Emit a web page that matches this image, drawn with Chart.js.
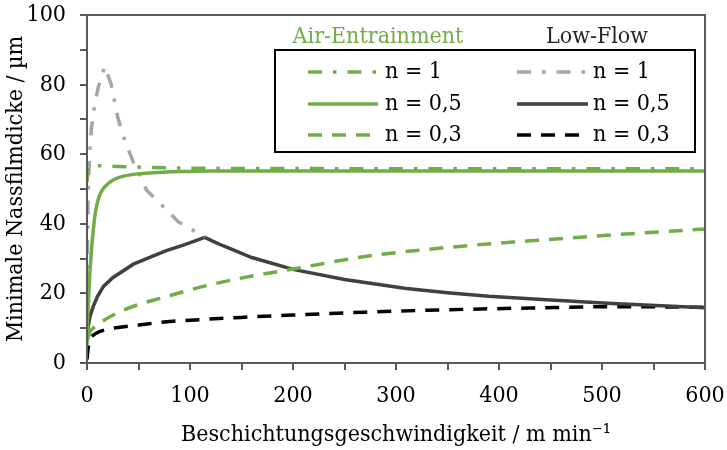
<!DOCTYPE html>
<html>
<head>
<meta charset="utf-8">
<script src="https://cdn.jsdelivr.net/npm/chart.js@4"></script>
<style>
  body { margin: 0; background: #fff; }
</style>
</head>
<body>
<canvas id="myChart" width="727" height="450"></canvas>
<script>
// Air-Entrainment
const aeN1X = [0, 1, 3, 10, 30, 60, 100, 150, 600];
const aeN1Y = [52, 55.5, 56.7, 56.7, 56.5, 56.2, 56, 55.9, 55.8];
const aeN05X = [0, 0.5, 1.5, 2.6, 4, 5.8, 8, 10.7, 14, 18.8, 25, 32, 45, 61, 90, 123, 200, 600];
const aeN05Y = [5, 12, 18, 25, 31, 37.3, 43, 46.8, 49.3, 51.1, 52.5, 53.4, 54.2, 54.6, 55, 55.2, 55.2, 55.2];
const aeN03X = [1, 3, 6, 15, 30, 50, 75, 100, 120, 160, 200, 270, 350, 430, 510, 600];
const aeN03Y = [7, 9, 10, 12, 14.5, 16.8, 18.9, 21, 22.5, 25, 27, 30.6, 33.2, 35.1, 36.8, 38.5];

// Low-Flow
const lfN1X = [0, 0.5, 1.2, 2.6, 4.2, 5.8, 10.7, 17.2, 23.6, 30, 36.7, 41.5, 46.4, 52.8, 57.7, 69, 79, 88.5, 100, 114.4];
const lfN1Y = [20, 35, 50, 60, 67, 71.3, 79, 85.2, 80, 70.4, 64, 60.3, 56.6, 53.2, 49.7, 46.4, 43.5, 40.6, 38.7, 36.1];
const lfN05X = [0, 1, 3, 6, 10, 16, 25, 45, 77, 95, 114.4, 123, 132, 160, 200, 250, 310, 350, 390, 450, 510, 600];
const lfN05Y = [6, 10.4, 13.5, 16.2, 19, 22, 24.5, 28.4, 32.3, 34, 36.1, 34.9, 33.7, 30.3, 26.9, 24, 21.4, 20.2, 19.2, 18.1, 17.1, 15.9];
const lfN03X = [0, 1, 2.6, 6, 12, 25, 50, 75, 100, 150, 200, 270, 350, 430, 510, 600];
const lfN03Y = [1, 4, 6.6, 8, 9, 10, 10.9, 11.8, 12.3, 13.1, 13.8, 14.6, 15.3, 15.8, 16.2, 16];

const groupTitles = ["Air-Entrainment", "Low-Flow"];
const seriesLabels = ["n = 1", "n = 0,5", "n = 0,3", "n = 1", "n = 0,5", "n = 0,3"];

const FONT = "'DejaVu Serif Condensed', 'DejaVu Serif', serif";
const GREEN = "#70ad47";
const AXIS = "#595959";

function xy(xs, ys) {
  return xs.map((x, i) => ({ x: x, y: ys[i] }));
}

function line(label, xs, ys, color, dash, tension) {
  return {
    label: label,
    data: xy(xs, ys),
    borderColor: color,
    backgroundColor: color,
    borderWidth: 3.5,
    borderDash: dash,
    borderCapStyle: "butt",
    pointRadius: 0,
    tension: 0,
    cubicInterpolationMode: tension ? "monotone" : "default"
  };
}

// keep label overhang from shrinking the plot area
function noOverhang(scale) {
  scale.paddingTop = 0;
  scale.paddingBottom = 0;
  scale.paddingLeft = 0;
  scale.paddingRight = 0;
}

// frame round the plot area
const frame = {
  id: "frame",
  afterDatasetsDraw(chart) {
    const a = chart.chartArea;
    const ctx = chart.ctx;
    ctx.save();
    ctx.strokeStyle = AXIS;
    ctx.lineWidth = 2;
    ctx.strokeRect(a.left, a.top, a.right - a.left, a.bottom - a.top);
    ctx.restore();
  }
};

// two-column legend with group titles
const groupLegend = {
  id: "groupLegend",
  afterDraw(chart) {
    const ctx = chart.ctx;
    ctx.save();
    ctx.fillStyle = "#fff";
    ctx.fillRect(275, 50, 420, 102);
    ctx.strokeStyle = "#000";
    ctx.lineWidth = 2;
    ctx.strokeRect(275, 50, 420, 102);

    ctx.font = "23px " + FONT;
    ctx.textBaseline = "middle";
    ctx.textAlign = "center";
    ctx.fillStyle = GREEN;
    ctx.fillText(groupTitles[0], 378, 37);
    ctx.fillStyle = "#262626";
    ctx.fillText(groupTitles[1], 597, 37);

    const cols = [{ x0: 308, x1: 378, tx: 385 }, { x0: 517, x1: 588, tx: 593 }];
    const rows = [72, 104, 135];
    ctx.textAlign = "left";
    chart.data.datasets.forEach((ds, i) => {
      const c = cols[Math.floor(i / 3)];
      const y = rows[i % 3];
      ctx.strokeStyle = ds.borderColor;
      ctx.lineWidth = ds.borderWidth;
      ctx.lineCap = "butt";
      ctx.setLineDash(ds.borderDash || []);
      ctx.beginPath();
      ctx.moveTo(c.x0, y);
      ctx.lineTo(c.x1, y);
      ctx.stroke();
      ctx.setLineDash([]);
      ctx.fillStyle = "#000";
      ctx.fillText(ds.label, c.tx, y);
    });
    ctx.restore();
  }
};

new Chart(document.getElementById("myChart"), {
  type: "line",
  data: {
    datasets: [
      line(seriesLabels[0], aeN1X, aeN1Y, GREEN, [14, 11, 3.5, 11], true),
      line(seriesLabels[1], aeN05X, aeN05Y, GREEN, [], true),
      line(seriesLabels[2], aeN03X, aeN03Y, GREEN, [14, 10], true),
      line(seriesLabels[3], lfN1X, lfN1Y, "#a5a5a5", [14, 11, 3.5, 11], false),
      line(seriesLabels[4], lfN05X, lfN05Y, "#404040", [], false),
      line(seriesLabels[5], lfN03X, lfN03Y, "#000000", [14, 10], true)
    ]
  },
  options: {
    responsive: false,
    animation: false,
    devicePixelRatio: 1,
    layout: { padding: { left: 0, right: 22, top: 15, bottom: 0 } },
    plugins: {
      legend: { display: false },
      tooltip: { enabled: false }
    },
    scales: {
      x: {
        type: "linear",
        min: 0,
        max: 600,
        afterFit(scale) { scale.height = 87; noOverhang(scale); },
        ticks: {
          stepSize: 50,
          autoSkip: false,
          maxRotation: 0,
          padding: 12,
          color: "#000",
          font: { family: FONT, size: 23 },
          callback: (v) => (v % 100 === 0 ? v : "")
        },
        grid: { drawOnChartArea: false, drawTicks: true, tickLength: 7, color: AXIS, lineWidth: 2 },
        border: { display: true, color: AXIS, width: 2 },
        title: {
          display: true,
          text: "Beschichtungsgeschwindigkeit / m min\u207B\u00B9",
          color: "#000",
          font: { family: FONT, size: 23 },
          padding: { top: 0, bottom: 1 }
        }
      },
      y: {
        min: 0,
        max: 100,
        afterFit(scale) { scale.width = 87; noOverhang(scale); },
        ticks: {
          stepSize: 10,
          autoSkip: false,
          padding: 14,
          color: "#000",
          font: { family: FONT, size: 23 },
          callback: (v) => (v % 20 === 0 ? v : "")
        },
        grid: { drawOnChartArea: false, drawTicks: true, tickLength: 7, color: AXIS, lineWidth: 2 },
        border: { display: true, color: AXIS, width: 2 },
        title: {
          display: true,
          text: "Minimale Nassfilmdicke / \u00B5m",
          color: "#000",
          font: { family: FONT, size: 23 },
          padding: { top: 2, bottom: 0 }
        }
      }
    }
  },
  plugins: [frame, groupLegend]
});
</script>
</body>
</html>
